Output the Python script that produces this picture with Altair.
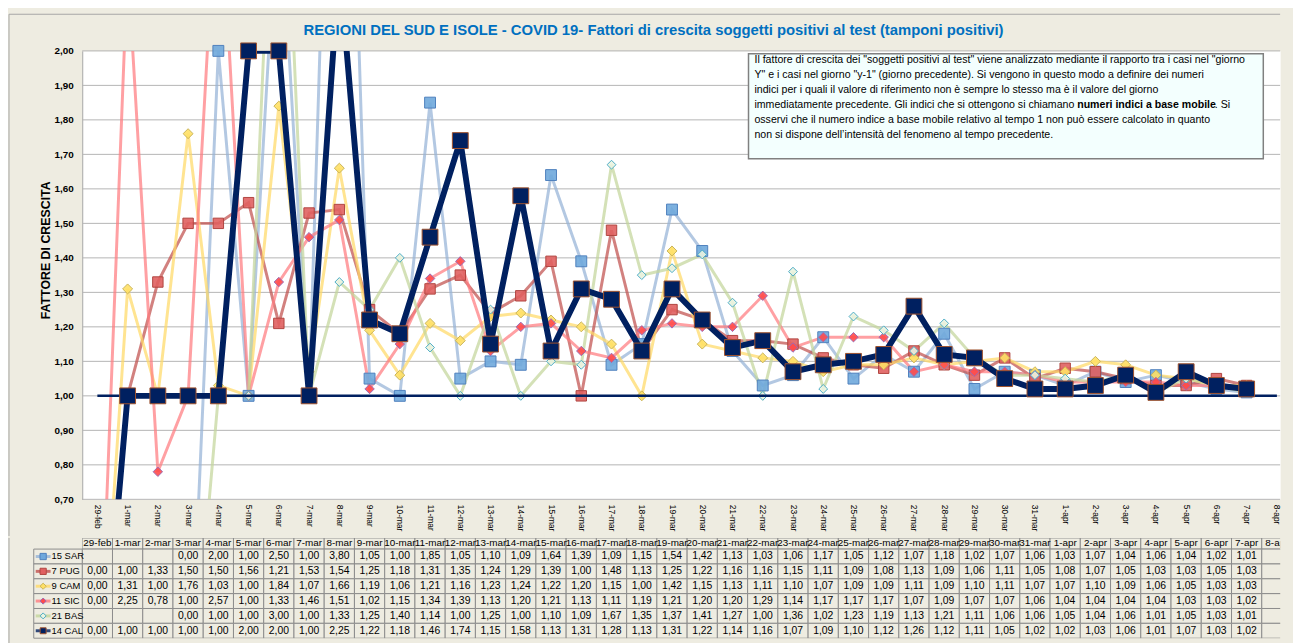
import altair as alt
import pandas as pd

# ---------------- data ----------------
DATES = ["29-feb", "1-mar", "2-mar", "3-mar", "4-mar", "5-mar", "6-mar", "7-mar", "8-mar", "9-mar",
         "10-mar", "11-mar", "12-mar", "13-mar", "14-mar", "15-mar", "16-mar", "17-mar", "18-mar",
         "19-mar", "20-mar", "21-mar", "22-mar", "23-mar", "24-mar", "25-mar", "26-mar", "27-mar",
         "28-mar", "29-mar", "30-mar", "31-mar", "1-apr", "2-apr", "3-apr", "4-apr", "5-apr",
         "6-apr", "7-apr", "8-apr"]

SERIES = ["15 SAR", "7 PUG", "9 CAM", "11 SIC", "21 BAS", "14 CAL"]

SAR = [None, None, None, 0.00, 2.00, 1.00, 2.50, 1.00, 3.80, 1.05, 1.00, 1.85, 1.05, 1.10, 1.09,
       1.64, 1.39, 1.09, 1.15, 1.54, 1.42, 1.13, 1.03, 1.06, 1.17, 1.05, 1.12, 1.07, 1.18, 1.02,
       1.07, 1.06, 1.03, 1.07, 1.04, 1.06, 1.04, 1.02, 1.01, None]
PUG = [0.00, 1.00, 1.33, 1.50, 1.50, 1.56, 1.21, 1.53, 1.54, 1.25, 1.18, 1.31, 1.35, 1.24, 1.29,
       1.39, 1.00, 1.48, 1.13, 1.25, 1.22, 1.16, 1.16, 1.15, 1.11, 1.09, 1.08, 1.13, 1.09, 1.06,
       1.11, 1.05, 1.08, 1.07, 1.05, 1.03, 1.03, 1.05, 1.03, None]
CAM = [0.00, 1.31, 1.00, 1.76, 1.03, 1.00, 1.84, 1.07, 1.66, 1.19, 1.06, 1.21, 1.16, 1.23, 1.24,
       1.22, 1.20, 1.15, 1.00, 1.42, 1.15, 1.13, 1.11, 1.10, 1.07, 1.09, 1.09, 1.11, 1.09, 1.10,
       1.11, 1.07, 1.07, 1.10, 1.09, 1.06, 1.05, 1.03, 1.03, None]
SIC = [0.00, 2.25, 0.78, 1.00, 2.57, 1.00, 1.33, 1.46, 1.51, 1.02, 1.15, 1.34, 1.39, 1.13, 1.20,
       1.21, 1.13, 1.11, 1.19, 1.21, 1.20, 1.20, 1.29, 1.14, 1.17, 1.17, 1.17, 1.07, 1.09, 1.07,
       1.07, 1.06, 1.04, 1.04, 1.04, 1.04, 1.03, 1.03, 1.02, None]
BAS = [None, None, None, 0.00, 1.00, 1.00, 3.00, 1.00, 1.33, 1.25, 1.40, 1.14, 1.00, 1.25, 1.00,
       1.10, 1.09, 1.67, 1.35, 1.37, 1.41, 1.27, 1.00, 1.36, 1.02, 1.23, 1.19, 1.13, 1.21, 1.11,
       1.06, 1.06, 1.05, 1.04, 1.06, 1.01, 1.05, 1.03, 1.01, None]
CAL = [0.00, 1.00, 1.00, 1.00, 1.00, 2.00, 2.00, 1.00, 2.25, 1.22, 1.18, 1.46, 1.74, 1.15, 1.58,
       1.13, 1.31, 1.28, 1.13, 1.31, 1.22, 1.14, 1.16, 1.07, 1.09, 1.10, 1.12, 1.26, 1.12, 1.11,
       1.05, 1.02, 1.02, 1.03, 1.06, 1.01, 1.07, 1.03, 1.02, None]
VALUES = [SAR, PUG, CAM, SIC, BAS, CAL]

REFERENCE = 1.0
Y_TICKS = [0.7, 0.8, 0.9, 1.0, 1.1, 1.2, 1.3, 1.4, 1.5, 1.6, 1.7, 1.8, 1.9, 2.0]
Y_MIN, Y_MAX = 0.7, 2.0

TITLE = "REGIONI DEL SUD E ISOLE - COVID 19- Fattori di crescita  soggetti  positivi al test (tamponi positivi)"
Y_TITLE = "FATTORE DI CRESCITA"
NOTE_LINES = [
    'Il fattore di crescita  dei "soggetti positivi al test" viene analizzato mediante il rapporto tra i casi nel "giorno',
    'Y" e i casi nel giorno "y-1" (giorno precedente).  Si vengono  in  questo  modo  a  definire  dei  numeri',
    'indici  per  i  quali  il  valore  di riferimento  non  è  sempre  lo  stesso  ma  è  il  valore  del  giorno',
    'immediatamente precedente. Gli indici che si ottengono si chiamano',
    'osservi  che  il  numero indice  a  base  mobile  relativo  al  tempo  1  non  può  essere  calcolato  in  quanto',
    'non  si dispone dell\u2019intensità del fenomeno al tempo precedente.',
]
NOTE_BOLD = "numeri indici a base mobile"
NOTE_TAIL = ".   Si"

# ---------------- styles ----------------
FONT = "Liberation Sans Narrow, Liberation Sans, Arial, sans-serif"
BG = "#EEECE1"
FRAME = "#A6A6A6"
GRID = "#B4B4B4"
THIN = SERIES[:5]
LINE_COLORS = ["#95B3D7", "#C0504D", "#FFD966", "#FF7C80", "#C3D69B", "#002060"]
MARK_FILLS = ["#6FA8DC", "#E06060", "#FFE066", "#FF4B4B", "#EAF3E0", "#002060"]
MARK_STROKES = ["#4F81BD", "#B04540", "#C9B458", "#9B6BB5", "#4BACC6", "#A0522D"]
MARK_SHAPES = ["square", "square", "diamond", "diamond", "diamond", "square"]
MARK_SIZES = [121, 70, 121, 121, 137, 256]
KEY_SIZES = [40, 36, 42, 42, 42, 55]
KEY_WIDTHS = [3, 3, 3, 3, 3, 4.5]

W = 1210          # visible plot width (the page is cut on the right like the reference)
FULL = 1222       # width spanned by the 40 categories
H = 453

# ---------------- tables ----------------
rows = []
for s, vals in zip(SERIES, VALUES):
    for d, v in zip(DATES, vals):
        rows.append({"series": s, "date": d, "value": v})
df = pd.DataFrame(rows)

xs = alt.Scale(type="point", padding=0.5, domain=DATES, range=[0, FULL])
X = alt.X("date:O", scale=xs, axis=alt.Axis(
    title=None, labelAngle=90, labelFont=FONT, labelFontSize=8.5, labelColor="#000000",
    labelPadding=5, ticks=False, domain=False, grid=False,
    labelAlign="left", labelBaseline="middle", labelOverlap=False))
ys = alt.Scale(domain=[Y_MIN, Y_MAX], nice=False, zero=False)
Y = alt.Y("value:Q", scale=ys, axis=alt.Axis(
    values=Y_TICKS, labelExpr="replace(format(datum.value, '.2f'), '.', ',')",
    labelFont=FONT, labelFontSize=10, labelFontWeight="bold", labelColor="#000000",
    labelPadding=9, ticks=False, domain=True, domainColor=FRAME, grid=False,
    title=Y_TITLE, titleFont=FONT, titleFontSize=12.5,
    titleFontWeight="bold", titleColor="#000000", titleX=-37, titleY=201,
    titleAlign="center", titleBaseline="middle"))


def sc(rng, dom=SERIES):
    return alt.Scale(domain=dom, range=rng)


# horizontal gridlines, limited to the visible plot width
grid = alt.Chart(pd.DataFrame({"value": Y_TICKS})).mark_rule(color=GRID, strokeWidth=1).encode(
    x=alt.value(0), x2=alt.value(W), y=Y)

base = alt.Chart(df)
in_range = alt.FieldRangePredicate(field="value", range=[Y_MIN, Y_MAX])

thin_lines = base.transform_filter(
    alt.FieldOneOfPredicate(field="series", oneOf=THIN)
).mark_line(strokeWidth=3, opacity=0.72, clip=True).encode(
    x=X, y=Y,
    color=alt.Color("series:N", scale=sc(LINE_COLORS), legend=None),
)

thin_points = base.transform_filter(
    alt.FieldOneOfPredicate(field="series", oneOf=THIN)
).transform_filter(in_range).mark_point(filled=True, opacity=1, fillOpacity=0.9, strokeWidth=1).encode(
    x=X, y=Y,
    shape=alt.Shape("series:N", scale=sc(MARK_SHAPES), legend=None),
    size=alt.Size("series:N", scale=sc(MARK_SIZES), legend=None),
    fill=alt.Fill("series:N", scale=sc(MARK_FILLS), legend=None),
    stroke=alt.Stroke("series:N", scale=sc(MARK_STROKES), legend=None),
)

ref_df = pd.DataFrame({"date": [DATES[0]], "date_end": [DATES[-1]], "value": [REFERENCE]})
ref_line = alt.Chart(ref_df).mark_rule(color="#002060", strokeWidth=2.5).encode(
    x=X, x2="date_end:O", y=Y)

cal_line = base.transform_filter(alt.datum.series == "14 CAL").mark_line(
    color="#002060", strokeWidth=6, clip=True).encode(x=X, y=Y)
cal_points = base.transform_filter(alt.datum.series == "14 CAL").transform_filter(in_range).mark_point(
    shape="square", filled=True, fill="#002060", stroke="#A0522D", strokeWidth=1,
    size=256, opacity=1).encode(x=X, y=Y)

one = pd.DataFrame({"k": [0]})
NOTE_FS = 10.7
LINE_H = 15.2
NOTE_Y = 12
note_box = alt.Chart(one).mark_rect(fill="#F3FFFE", stroke="#808080", strokeWidth=1.5).encode(
    x=alt.value(673), x2=alt.value(1193), y=alt.value(3), y2=alt.value(109))
note_text = alt.Chart(one).mark_text(
    text=NOTE_LINES, font=FONT, fontSize=NOTE_FS, lineHeight=LINE_H, align="left",
    baseline="alphabetic", color="#000000").encode(x=alt.value(679), y=alt.value(NOTE_Y))
note_bold = alt.Chart(one).mark_text(
    text=NOTE_BOLD, font=FONT, fontSize=NOTE_FS, fontWeight="bold", align="left",
    baseline="alphabetic", color="#000000").encode(x=alt.value(1005), y=alt.value(NOTE_Y + 3 * LINE_H))
note_tail = alt.Chart(one).mark_text(
    text=NOTE_TAIL, font=FONT, fontSize=NOTE_FS, align="left",
    baseline="alphabetic", color="#000000").encode(x=alt.value(1144), y=alt.value(NOTE_Y + 3 * LINE_H))

title = alt.Chart(one).mark_text(
    text=TITLE, font=FONT, fontSize=15, fontWeight="bold", color="#0070C0",
    align="center", baseline="middle").encode(x=alt.value(577), y=alt.value(-21))

GAP = 37
frame_left = alt.Chart(one).mark_rule(color=FRAME, strokeWidth=1).encode(
    x=alt.value(-74), y=alt.value(-37), y2=alt.value(H + GAP))
frame_top = alt.Chart(one).mark_rule(color=FRAME, strokeWidth=1).encode(
    x=alt.value(-74), x2=alt.value(W), y=alt.value(-37))

main = alt.layer(
    grid, thin_lines, thin_points, ref_line, cal_line, cal_points,
    note_box, note_text, note_bold, note_tail, title, frame_left, frame_top
).properties(width=W, height=H, view=alt.ViewBackground(fill="white", stroke="transparent"))

# ---------------- data table under the chart ----------------
ROW_H = 15
HDR = 0.75
NROWS = HDR + len(SERIES)
TH = NROWS * ROW_H
hdr_df = pd.DataFrame({"date": DATES, "y0": 0.0, "y1": HDR, "yc": HDR / 2, "txt": DATES})
cell_rows = []
for i, (s, vals) in enumerate(zip(SERIES, VALUES)):
    for d, v in zip(DATES, vals):
        cell_rows.append({"series": s, "date": d, "y0": HDR + i, "y1": HDR + i + 1, "yc": HDR + i + 0.5,
                          "txt": "" if v is None else f"{v:.2f}".replace(".", ",")})
cell_df = pd.DataFrame(cell_rows)
rh_df = pd.DataFrame({"series": SERIES,
                      "y0": [HDR + i for i in range(len(SERIES))],
                      "y1": [HDR + i + 1 for i in range(len(SERIES))],
                      "yc": [HDR + i + 0.5 for i in range(len(SERIES))]})

tys = alt.Scale(domain=[0, NROWS], reverse=True, nice=False, zero=False)
TX = alt.X("date:O", scale=alt.Scale(type="band", domain=DATES, range=[0, FULL],
                                     paddingInner=0, paddingOuter=0), axis=None)
TY = alt.Y("y0:Q", scale=tys, axis=None)
TYC = alt.Y("yc:Q", scale=tys, axis=None)
CELL = dict(fill=BG, stroke="#8C8C8C", strokeWidth=1)

hdr_cells = alt.Chart(hdr_df).mark_rect(clip=True, **CELL).encode(x=TX, y=TY, y2="y1:Q")
hdr_text = alt.Chart(hdr_df).mark_text(font=FONT, fontSize=10, color="#000000", clip=True).encode(
    x=TX, y=TYC, text="txt:N")
val_cells = alt.Chart(cell_df).mark_rect(clip=True, **CELL).encode(x=TX, y=TY, y2="y1:Q")
val_text = alt.Chart(cell_df).mark_text(font=FONT, fontSize=10.5, color="#000000", clip=True).encode(
    x=TX, y=TYC, text="txt:N")
rh_cells = alt.Chart(rh_df).mark_rect(**CELL).encode(x=alt.value(-49), x2=alt.value(0), y=TY, y2="y1:Q")
rh_keys = alt.Chart(rh_df).mark_rule(opacity=0.8).encode(
    x=alt.value(-47), x2=alt.value(-32), y=TYC,
    color=alt.Color("series:N", scale=sc(LINE_COLORS), legend=None),
    strokeWidth=alt.StrokeWidth("series:N", scale=sc(KEY_WIDTHS), legend=None))
rh_marks = alt.Chart(rh_df).mark_point(filled=True, opacity=1, strokeWidth=1).encode(
    x=alt.value(-39.5), y=TYC,
    shape=alt.Shape("series:N", scale=sc(MARK_SHAPES), legend=None),
    size=alt.Size("series:N", scale=sc(KEY_SIZES), legend=None),
    fill=alt.Fill("series:N", scale=sc(MARK_FILLS), legend=None),
    stroke=alt.Stroke("series:N", scale=sc(MARK_STROKES), legend=None))
rh_text = alt.Chart(rh_df).mark_text(font=FONT, fontSize=9.5, align="left", color="#000000").encode(
    x=alt.value(-31), y=TYC, text="series:N")
frame_left2 = alt.Chart(one).mark_rule(color=FRAME, strokeWidth=1).encode(
    x=alt.value(-74), y=alt.value(0), y2=alt.value(TH + 20))

table = alt.layer(
    hdr_cells, hdr_text, val_cells, val_text, rh_cells, rh_keys, rh_marks, rh_text, frame_left2
).properties(width=W, height=TH, view=alt.ViewBackground(stroke="transparent"))

chart = alt.vconcat(main, table, spacing=0).resolve_scale(
    color="independent", shape="independent", size="independent",
    fill="independent", stroke="independent", strokeWidth="independent"
).properties(
    padding={"left": 0, "top": 2, "right": 0, "bottom": 0}
).configure(background=BG)

chart.save("out.html", embed_options={"renderer": "svg", "actions": False})
